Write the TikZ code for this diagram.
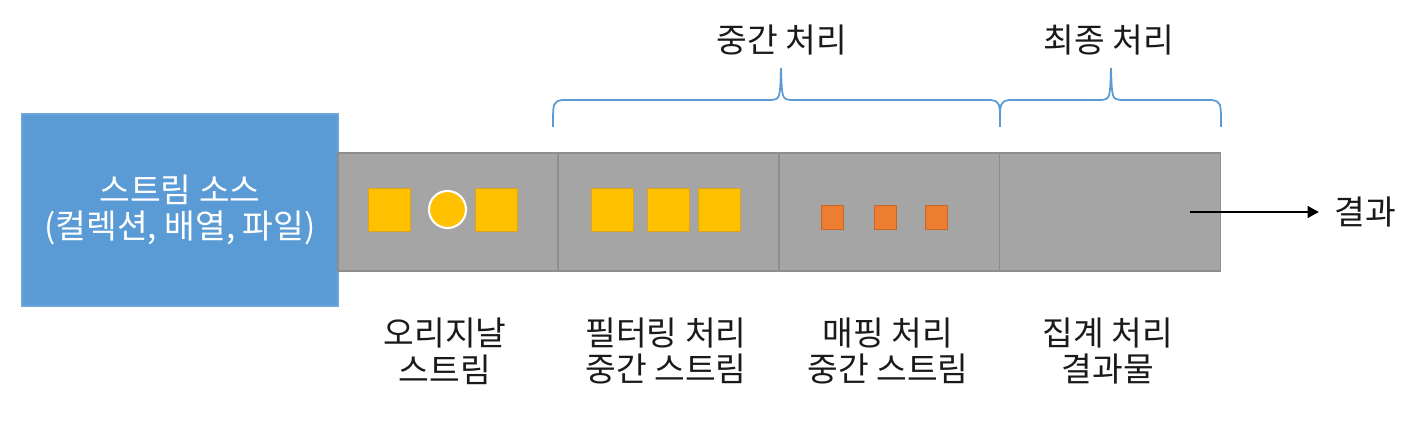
\documentclass[tikz,border=0pt]{standalone}
\usepackage{fontspec}
\setmainfont{Noto Sans CJK KR}
\usetikzlibrary{arrows.meta}
\definecolor{srcblue}{HTML}{5B9BD5}
\definecolor{srcedge}{HTML}{6FA6DA}
\definecolor{bandgray}{HTML}{A5A5A5}
\definecolor{bandedge}{HTML}{8E8E8E}
\definecolor{itemyellow}{HTML}{FFC000}
\definecolor{yellowedge}{HTML}{D9A520}
\definecolor{itemorange}{HTML}{ED7D31}
\definecolor{orangeedge}{HTML}{C8672A}
\definecolor{txt}{HTML}{1A1A1A}
\newcommand\pxl[1]{#1*0.02cm}
\begin{document}
\begin{tikzpicture}[x=0.02cm,y=-0.02cm,
  txtstyle/.style={font=\fontsize{19}{21}\selectfont, text=txt, align=center, inner sep=0pt},
  srcbox/.style={draw=srcedge, line width=0.6pt, fill=srcblue, minimum width=\pxl{316}, minimum height=\pxl{192}, inner sep=0pt,
     font=\fontsize{19}{21}\selectfont, text=white, align=center},
  section/.style={draw=bandedge, line width=0.6pt, fill=bandgray, minimum width=\pxl{221}, minimum height=\pxl{118}, inner sep=0pt},
  bigsq/.style={draw=yellowedge, line width=0.5pt, fill=itemyellow, minimum width=\pxl{42}, minimum height=\pxl{43}, inner sep=0pt},
  bigcirc/.style={circle, draw=white, line width=1.2pt, fill=itemyellow, minimum size=\pxl{37}, inner sep=0pt},
  smallsq/.style={draw=orangeedge, line width=0.5pt, fill=itemorange, minimum width=\pxl{22}, minimum height=\pxl{24}, inner sep=0pt},
  bracestyle/.style={draw=srcblue, line width=1pt},
  arrowstyle/.style={draw=black, line width=1.6pt, -{Triangle[length=6.5pt,width=6.5pt]}}
]
\useasboundingbox (0,0) rectangle (1414,422);

% stream source
\node[srcbox] (source) at (180,210) {스트림 소스\\(컬렉션, 배열, 파일)};

% band sections
\node[section, minimum width=\pxl{220}] (sec1) at (448,212) {};
\node[section] (sec2) at (668.5,212) {};
\node[section] (sec3) at (889.5,212) {};
\node[section] (sec4) at (1110,212) {};

% items in original stream
\node[bigsq] (a1) at (389.5,209.5) {};
\node[bigcirc] (a2) at (447.5,209.5) {};
\node[bigsq] (a3) at (496.5,209.5) {};

% items after filtering
\node[bigsq] (b1) at (612.5,210) {};
\node[bigsq] (b2) at (668,210) {};
\node[bigsq] (b3) at (719.5,210) {};

% items after mapping
\node[smallsq] (c1) at (832,217) {};
\node[smallsq] (c2) at (885,217) {};
\node[smallsq] (c3) at (936,217) {};

% result arrow
\coordinate (arrstart) at (1190,212);
\coordinate (arrend) at (1319,212);
\node[txtstyle] (result) at (1365,212) {결과};
\draw[arrowstyle] (arrstart) -- (arrend);

% braces
\draw[bracestyle] (553,127) .. controls (553,102) .. (562,100) -- (771,100)
   .. controls (780,99) .. (781,68) .. controls (782,99) .. (791,100) -- (991,100)
   .. controls (1000,102) .. (1000,127);
\draw[bracestyle] (1000,127) .. controls (1000,102) .. (1009,100) -- (1101,100)
   .. controls (1110,99) .. (1111,68) .. controls (1112,99) .. (1121,100) -- (1212,100)
   .. controls (1221,102) .. (1221,127);

\node[txtstyle] (midlabel) at (782,40) {중간 처리};
\node[txtstyle] (finallabel) at (1109,40) {최종 처리};

% bottom labels
\node[txtstyle] (lab1) at (445,351) {오리지날\\스트림};
\node[txtstyle] (lab2) at (666,351) {필터링 처리\\중간 스트림};
\node[txtstyle] (lab3) at (888,351) {매핑 처리\\중간 스트림};
\node[txtstyle] (lab4) at (1108,351) {집계 처리\\결과물};
\end{tikzpicture}
\end{document}
